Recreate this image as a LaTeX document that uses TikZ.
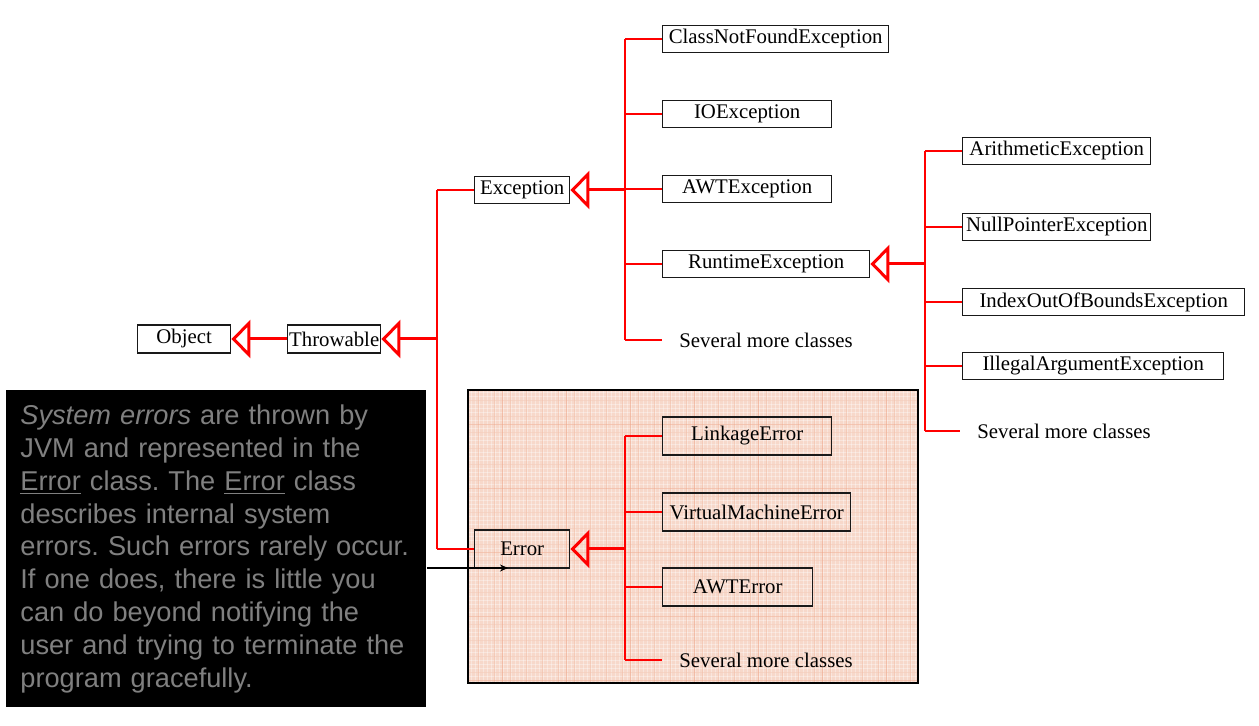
\documentclass[tikz,border=0pt]{standalone}
\usepackage{fontspec}
\setmainfont{Liberation Serif}
\newfontfamily\notefont{Liberation Sans}
\usetikzlibrary{
  arrows.meta,
  positioning,
}

\definecolor{linkred}{RGB}{255,0,0}
\definecolor{notegray}{RGB}{128,128,128}
\definecolor{errpink}{RGB}{247,216,202}
\definecolor{errline}{RGB}{242,186,162}
\definecolor{errbold}{RGB}{238,162,132}

\tikzset{
  cls/.style={
    draw=black!90,
    line width=0.7pt,
    inner sep=0pt,
    minimum height=13.5pt,
    anchor=west,
    font=\fontsize{10.4}{12}\selectfont,
  },
  more/.style={
    anchor=west,
    inner xsep=8.5pt,
    inner ysep=0pt,
    font=\fontsize{10.4}{12}\selectfont,
  },
  bus/.style={linkred, line width=1pt},
  branch/.style={linkred, line width=0.75pt},
  inherit/.style={
    linkred,
    line width=1.5pt,
    -{Triangle[open, length=9.5pt, width=19pt]},
  },
  note/.style={
    fill=black,
    text=notegray,
    anchor=north west,
    align=left,
    text width=196pt,
    inner xsep=7pt,
    inner ysep=0pt,
    minimum height=158.5pt,
    font=\notefont\fontsize{13.6}{16.4}\selectfont\frenchspacing,
  },
  pointer/.style={black, line width=0.6pt, -{Stealth[length=4pt, width=3.5pt]}},
}

\begin{document}
\begin{tikzpicture}[x=0.5pt, y=-0.5pt]
\useasboundingbox (0,0) rectangle (1259,726);

% shaded area behind the Error classes
\fill[errpink] (468,390) rectangle (918,683);
\foreach \gx in {471,475,...,916} \draw[white, opacity=.35, line width=0.3pt] (\gx,390) -- (\gx,683);
\foreach \gy in {392,396,...,682} \draw[white, opacity=.35, line width=0.3pt] (468,\gy) -- (918,\gy);
\foreach \gx in {478,494,...,916} \draw[errline, opacity=.45, line width=0.3pt] (\gx,390) -- (\gx,683);
\foreach \gy in {400,416,...,682} \draw[errline, opacity=.45, line width=0.3pt] (468,\gy) -- (918,\gy);
\foreach \gx in {502,566,...,916} \draw[errbold, opacity=.5, line width=0.4pt] (\gx,390) -- (\gx,683);
\foreach \gy in {424,488,...,682} \draw[errbold, opacity=.5, line width=0.4pt] (468,\gy) -- (918,\gy);
\draw[line width=1pt] (468,390) rectangle (918,683);

\node[cls, minimum width=46.5pt, minimum height=14pt] (obj) at (137,339) {Object};
\node[cls, minimum width=46.5pt, minimum height=14pt] (thr) at (287,339) {Throwable};
\node[cls, minimum width=47.5pt] (exc) at (474,190) {Exception};
\node[cls, minimum width=47.5pt, minimum height=19pt] (err) at (474,549) {Error};

\coordinate (thrbus) at (437,0);
\coordinate (excbus) at (625,0);
\coordinate (rtbus) at (925,0);
\coordinate (errbus) at (625,0);

\draw[inherit] (thr) -- (obj);
\draw[inherit] (thr.east -| thrbus) -- (thr);
\draw[bus] (exc.west -| thrbus) -- (err.west -| thrbus);
\draw[branch] (exc.west -| thrbus) -- (exc);
\draw[branch] (err.west -| thrbus) -- (err);

% Exception
\foreach \nm/\txt/\bw/\yy in {
  cnf/ClassNotFoundException/113/39,
  io/IOException/84.5/114,
  awt/AWTException/84.5/189,
  rt/RuntimeException/103.5/264%
} {
  \node[cls, minimum width=\bw pt] (\nm) at (662,\yy) {\txt};
  \draw[branch] (\nm.west -| excbus) -- (\nm);
}
\node[more] (excmore) at (662,340) {Several more classes};
\draw[branch] (excmore.west -| excbus) -- (excmore.west);
\draw[bus] (cnf.west -| excbus) -- (excmore.west -| excbus);
\draw[inherit] (exc.east -| excbus) -- (exc);

% RuntimeException
\foreach \nm/\txt/\bw/\yy in {
  arith/ArithmeticException/94/151,
  nullp/NullPointerException/94/227,
  ioob/IndexOutOfBoundsException/141/302,
  illarg/IllegalArgumentException/130.5/366%
} {
  \node[cls, minimum width=\bw pt] (\nm) at (962,\yy) {\txt};
  \draw[branch] (\nm.west -| rtbus) -- (\nm);
}
\node[more] (rtmore) at (960,431) {Several more classes};
\draw[branch] (rtmore.west -| rtbus) -- (rtmore.west);
\draw[bus] (arith.west -| rtbus) -- (rtmore.west -| rtbus);
\draw[inherit] (rt.east -| rtbus) -- (rt);

% Error
\foreach \nm/\txt/\bw/\yy in {
  link/LinkageError/84.5/436,
  vme/VirtualMachineError/94/512,
  awterr/AWTError/75/587%
} {
  \node[cls, minimum width=\bw pt, minimum height=19pt] (\nm) at (662,\yy) {\txt};
  \draw[branch] (\nm.west -| errbus) -- (\nm);
}
\node[more] (errmore) at (662,660) {Several more classes};
\draw[branch] (errmore.west -| errbus) -- (errmore.west);
\draw[bus] (link.west -| errbus) -- (errmore.west -| errbus);
\draw[inherit] (err.east -| errbus) -- (err);

% note on system errors
\node[note] (note) at (6,390) {\textit{System errors} are thrown by\\
  JVM and represented in the\\
  \underline{Error} class. The \underline{Error} class\\
  describes internal system\\
  errors. Such errors rarely occur.\\
  If one does, there is little you\\
  can do beyond notifying the\\
  user and trying to terminate the\\
  program gracefully.};
\coordinate (errtip) at (508,568);
\draw[pointer] (note.east |- errtip) -- (errtip);
\end{tikzpicture}
\end{document}
